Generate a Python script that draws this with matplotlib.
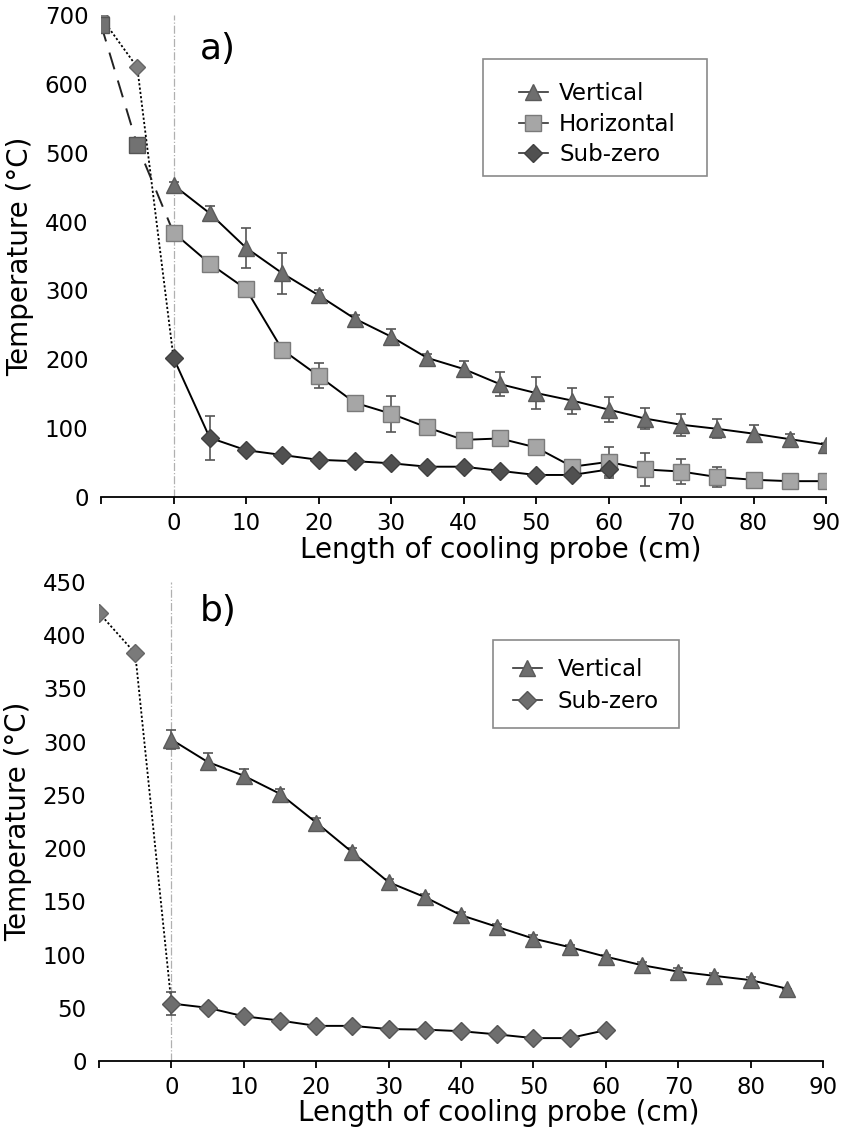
import matplotlib
matplotlib.use('Agg')
import matplotlib.pyplot as plt
from matplotlib.patches import Rectangle
from matplotlib.lines import Line2D

plt.rcParams['font.family'] = ['DejaVu Sans']

# probe positions (cm)
x_probe = [0, 5, 10, 15, 20, 25, 30, 35, 40, 45, 50, 55, 60, 65, 70, 75, 80, 85, 90]
x_pre = [-10, -5]

# panel a
vert_a = [453, 412, 362, 325, 293, 259, 233, 202, 186, 164, 151, 140, 127, 114, 105, 99, 92, 84, 76]
vert_a_err = [5, 10, 29, 30, 8, 5, 11, 6, 11, 17, 23, 19, 18, 15, 16, 14, 12, 8, 3]
horiz_a = [384, 339, 302, 214, 176, 137, 121, 101, 83, 85, 72, 44, 51, 40, 37, 29, 25, 23, 23]
horiz_a_err = [0, 0, 0, 0, 18, 5, 26, 10, 3, 0, 0, 5, 21, 24, 18, 14, 0, 0, 0]
horiz_a_pre = [686, 511]
sub_a = [202, 86, 68, 61, 54, 52, 49, 44, 44, 38, 32, 32, 40]
sub_a_err = [0, 32, 0, 0, 0, 0, 0, 0, 0, 0, 0, 4, 12]
sub_a_pre = [697, 624]

# panel b
vert_b = [302, 281, 268, 251, 224, 196, 168, 154, 137, 126, 115, 107, 98, 90, 84, 80, 76, 68]
vert_b_err = [9, 8, 6, 5, 4, 4, 3, 3, 3, 3, 3, 2, 2, 3, 3, 3, 3, 0]
sub_b = [54, 50, 42, 38, 33, 33, 30, 29.5, 28, 25, 21.5, 21.5, 29]
sub_b_err = [11, 0, 0, 0, 0, 0, 0, 0, 0, 0, 0, 0, 0]
sub_b_pre = [421, 383]

x_ticks = [0, 10, 20, 30, 40, 50, 60, 70, 80, 90]

c_vert = '#6e6e6e'
c_horiz = '#a6a6a6'
c_horiz_pre = '#727272'
c_sub = '#505050'
c_sub_pre = '#7f7f7f'
c_sub_b = '#6e6e6e'

W, H = 849, 1129
fig = plt.figure(figsize=(W / 100, H / 100), dpi=100)


def fx(px):
    return px / W


def fy(py):
    return 1 - py / H


ax_a = fig.add_axes([fx(101), fy(497), fx(826) - fx(101), fy(15) - fy(497)])
ax_b = fig.add_axes([fx(99), fy(1061), fx(823) - fx(99), fy(582) - fy(1061)])


def style_axis(ax, ymax, ystep):
    ax.set_xlim(-10, 90)
    ax.set_ylim(0, ymax)
    ax.set_xticks([-10] + x_ticks)
    ax.set_xticklabels([''] + [str(t) for t in x_ticks])
    ax.set_yticks(list(range(0, ymax + 1, ystep)))
    for s in ['top', 'right', 'left']:
        ax.spines[s].set_visible(False)
    ax.spines['bottom'].set_linewidth(1.3)
    ax.tick_params(axis='x', direction='out', length=5, width=1.3, labelsize=16.5, pad=6)
    ax.tick_params(axis='y', length=0, labelsize=16.5, pad=9)
    ax.axvline(0, color='#b0b0b0', lw=0.9, ls='-.', zorder=1)
    ax.set_xlabel('Length of cooling probe (cm)', fontsize=20)
    ax.set_ylabel('Temperature (°C)', fontsize=20)
    ax.xaxis.set_label_coords(0.552, -0.08)
    ax.yaxis.set_label_coords(-0.092, 0.5)


style_axis(ax_a, 700, 100)
style_axis(ax_b, 450, 50)

err_kw = dict(ecolor='#555555', elinewidth=1.2, capsize=3.5, capthick=1.2)

# ---- panel a ----
ax_a.plot(x_pre + [0], sub_a_pre + [sub_a[0]], ls=(0, (1.2, 1.2)), color='black', lw=1.3, zorder=2)
ax_a.plot(x_pre, sub_a_pre, ls='none', marker='D', ms=8, mfc=c_sub_pre, mec='#666666', zorder=4)
ax_a.plot(x_pre + [0], horiz_a_pre + [horiz_a[0]], ls=(0, (9, 6)), color='#222222', lw=1.4, zorder=2)
ax_a.plot(x_pre, horiz_a_pre, ls='none', marker='s', ms=12, mfc=c_horiz_pre, mec='#555555', zorder=4)

ax_a.errorbar(x_probe, vert_a, yerr=vert_a_err, color='black', lw=1.4, marker='^', ms=12,
              mfc=c_vert, mec='#5a5a5a', zorder=3, **err_kw)
ax_a.errorbar(x_probe, horiz_a, yerr=horiz_a_err, color='black', lw=1.4, marker='s', ms=12,
              mfc=c_horiz, mec='#7a7a7a', zorder=3, **err_kw)
ax_a.errorbar(x_probe[:len(sub_a)], sub_a, yerr=sub_a_err, color='black', lw=1.4, marker='D', ms=9,
              mfc=c_sub, mec='#404040', zorder=3, **err_kw)

ax_a.text(fx(218), fy(49), 'a)', transform=fig.transFigure, fontsize=26, ha='center', va='center')

# legend a
fig.patches.append(Rectangle((fx(483), fy(176)), fx(707) - fx(483), fy(59) - fy(176),
                             transform=fig.transFigure, fill=False, edgecolor='#8a8a8a', lw=1.2))
h_a = [Line2D([], [], color='#333333', lw=1.2, marker='^', ms=12, mfc=c_vert, mec='#5a5a5a'),
       Line2D([], [], color='#333333', lw=1.2, marker='s', ms=12, mfc=c_horiz, mec='#7a7a7a'),
       Line2D([], [], color='#333333', lw=1.2, marker='D', ms=9, mfc=c_sub, mec='#404040')]
fig.legend(h_a, ['Vertical', 'Horizontal', 'Sub-zero'], loc='upper left',
           bbox_to_anchor=(fx(519), fy(82)), bbox_transform=fig.transFigure, frameon=False,
           fontsize=16.5, handlelength=1.25, handletextpad=0.5, labelspacing=0.33,
           borderpad=0, borderaxespad=0, numpoints=1)

# ---- panel b ----
ax_b.plot(x_pre + [0], sub_b_pre + [sub_b[0]], ls=(0, (1.2, 1.2)), color='black', lw=1.3, zorder=2)
ax_b.plot(x_pre, sub_b_pre, ls='none', marker='D', ms=9, mfc='#7a7a7a', mec='#666666', zorder=4)
ax_b.errorbar(x_probe[:len(vert_b)], vert_b, yerr=vert_b_err, color='black', lw=1.4, marker='^', ms=12,
              mfc=c_vert, mec='#5a5a5a', zorder=3, **err_kw)
ax_b.errorbar(x_probe[:len(sub_b)], sub_b, yerr=sub_b_err, color='black', lw=1.4, marker='D', ms=9,
              mfc=c_sub_b, mec='#555555', zorder=3, **err_kw)

ax_b.text(fx(218), fy(611), 'b)', transform=fig.transFigure, fontsize=26, ha='center', va='center')

fig.patches.append(Rectangle((fx(493), fy(728)), fx(679) - fx(493), fy(640) - fy(728),
                             transform=fig.transFigure, fill=False, edgecolor='#8a8a8a', lw=1.2))
h_b = [Line2D([], [], color='#333333', lw=1.2, marker='^', ms=12, mfc=c_vert, mec='#5a5a5a'),
       Line2D([], [], color='#333333', lw=1.2, marker='D', ms=9, mfc=c_sub_b, mec='#555555')]
fig.legend(h_b, ['Vertical', 'Sub-zero'], loc='upper left',
           bbox_to_anchor=(fx(513), fy(658)), bbox_transform=fig.transFigure, frameon=False,
           fontsize=16.5, handlelength=1.25, handletextpad=0.7, labelspacing=0.4,
           borderpad=0, borderaxespad=0, numpoints=1)

fig.savefig('out.png', dpi=100)
